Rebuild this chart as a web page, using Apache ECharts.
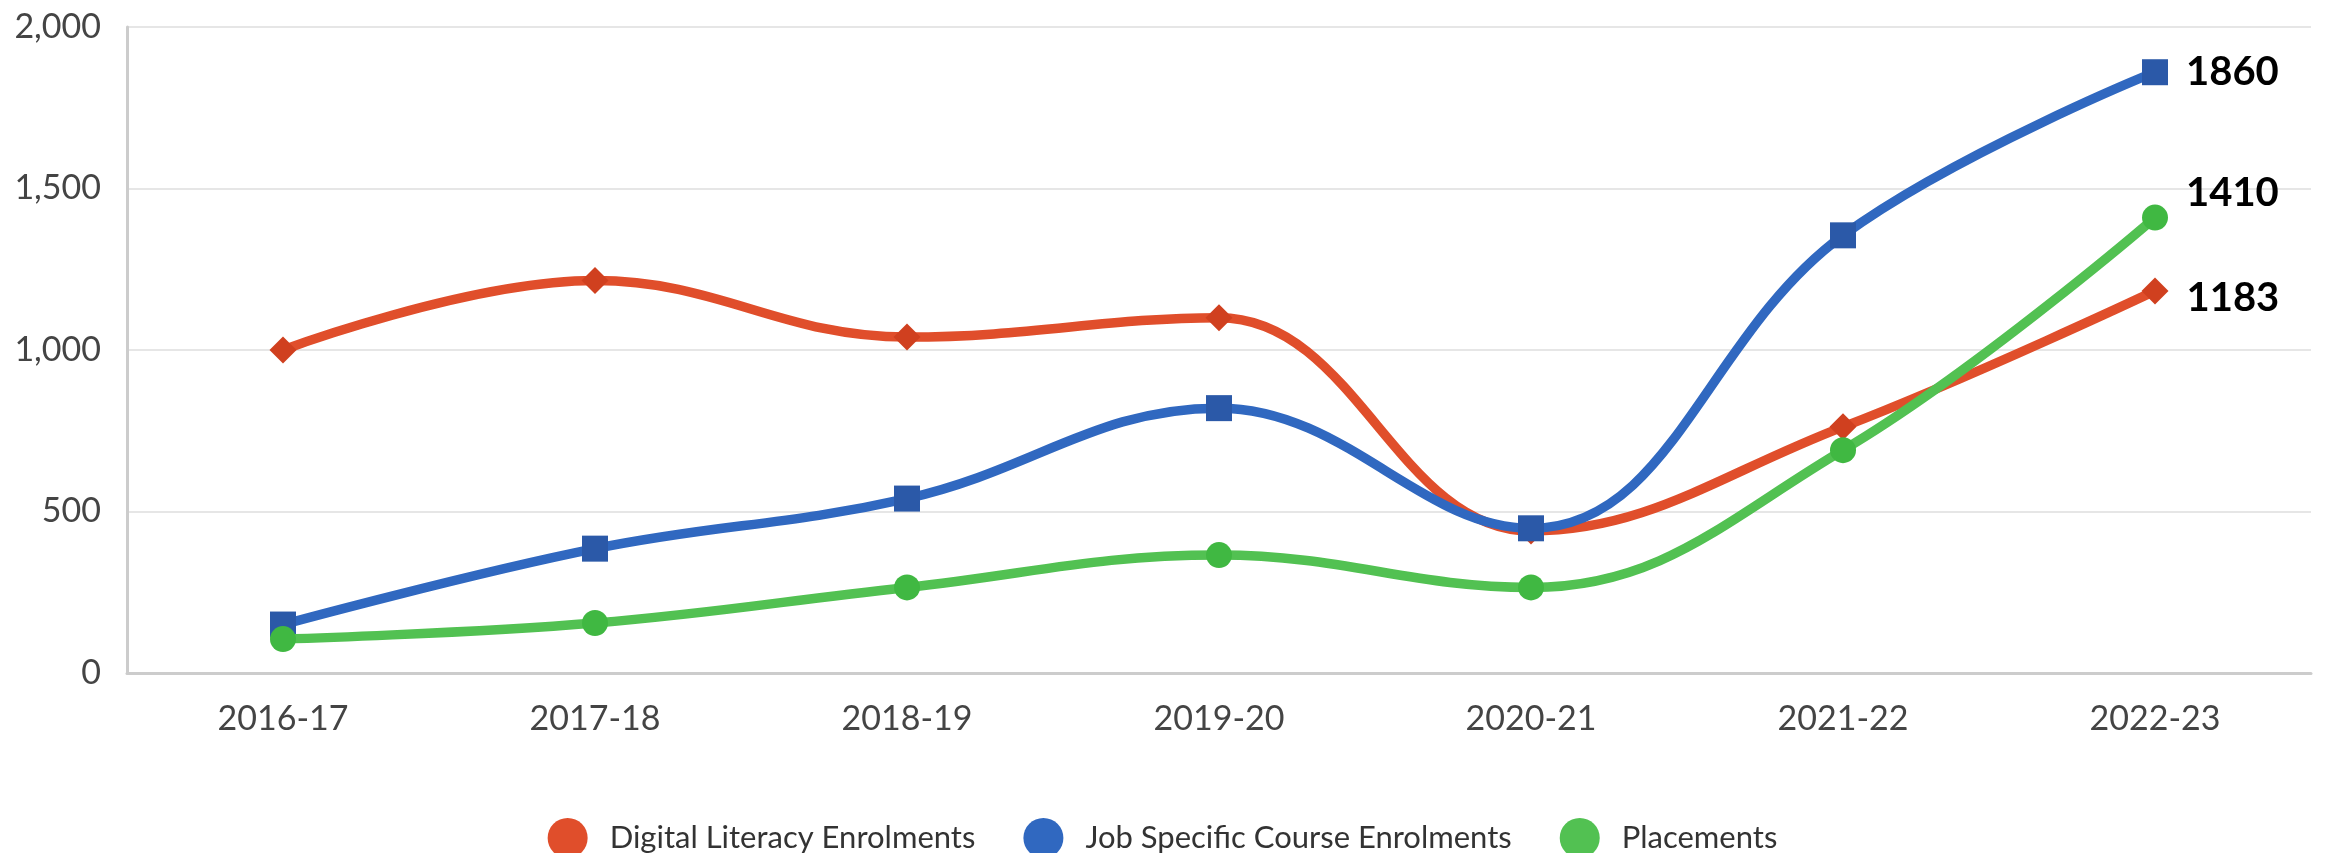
<!DOCTYPE html>
<html>
<head>
<meta charset="utf-8">
<script src="https://cdn.jsdelivr.net/npm/echarts@6/dist/echarts.min.js"></script>
<style>
html,body{margin:0;padding:0;background:#fff;}
#chart{width:2325px;height:853px;}
</style>
</head>
<body>
<div id="chart"></div>
<script>
const categories = ['2016-17','2017-18','2018-19','2019-20','2020-21','2021-22','2022-23'];
const digitalLiteracy = [1000, 1215, 1040, 1100, 440, 762, 1183];
const jobSpecific = [150, 385, 540, 820, 448, 1355, 1860];
const placements = [105, 155, 265, 365, 265, 690, 1410];
const seriesNames = ['Digital Literacy Enrolments', 'Job Specific Course Enrolments', 'Placements'];
const yTicks = [0, 500, 1000, 1500, 2000];

const lineColors = ['#e04e2b', '#3068c0', '#52c152'];
const markerColors = ['#d0401f', '#2b59a8', '#40b842'];
const symbols = ['diamond', 'rect', 'circle'];
const symbolSizes = [27, 26, 26];
const labelOffsets = [[0, 7], [0, 0], [0, -24]];

function buildData(arr, idx) {
  return arr.map((v, i) => {
    if (i === arr.length - 1) {
      return {
        value: v,
        label: {
          show: true,
          position: 'right',
          distance: 18,
          offset: labelOffsets[idx],
          fontSize: 40,
          fontWeight: 'bold',
          fontFamily: 'Lato',
          color: '#000'
        }
      };
    }
    return v;
  });
}

const seriesValues = [digitalLiteracy, jobSpecific, placements];

const chart = echarts.init(document.getElementById('chart'));
chart.setOption({
  animation: false,
  grid: { left: 127, right: 14, top: 27, bottom: 180 },
  legend: {
    top: 813,
    left: 'center',
    icon: 'circle',
    itemWidth: 40,
    itemHeight: 40,
    itemGap: 48,
    textStyle: { fontSize: 31, fontFamily: 'Lato', color: '#333', padding: [0, 0, 0, 17] },
    data: seriesNames.map((n, i) => ({ name: n, itemStyle: { color: lineColors[i] } }))
  },
  xAxis: {
    type: 'category',
    data: categories,
    boundaryGap: true,
    axisTick: { show: false },
    axisLine: { lineStyle: { color: '#cccccc', width: 3 } },
    axisLabel: { fontSize: 34, fontFamily: 'Lato', color: '#444', margin: 29 }
  },
  yAxis: {
    type: 'value',
    min: yTicks[0],
    max: yTicks[yTicks.length - 1],
    interval: yTicks[1] - yTicks[0],
    axisLine: { show: true, lineStyle: { color: '#cccccc', width: 3 } },
    axisTick: { show: false },
    splitLine: { lineStyle: { color: '#e6e6e6', width: 2 } },
    axisLabel: {
      fontSize: 34, fontFamily: 'Lato', color: '#444', margin: 26,
      formatter: v => v.toLocaleString('en-US')
    }
  },
  series: seriesValues.map((arr, i) => ({
    name: seriesNames[i],
    type: 'line',
    data: buildData(arr, i),
    smooth: 0.4,
    symbol: symbols[i],
    symbolSize: symbolSizes[i],
    showAllSymbol: true,
    lineStyle: { color: lineColors[i], width: 9.5 },
    itemStyle: { color: markerColors[i] },
    z: 2 + i
  }))
});
</script>
</body>
</html>
